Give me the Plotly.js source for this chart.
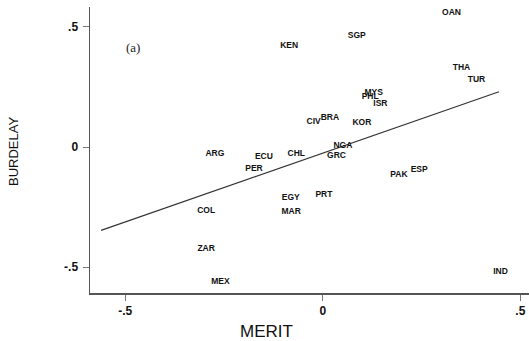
<!DOCTYPE html>
<html><head><meta charset="utf-8">
<script src="https://cdn.plot.ly/plotly-3.0.1.min.js"></script>
<style>html,body{margin:0;padding:0;background:#fff}#chart{width:529px;height:341px}</style>
</head><body><div id="chart"></div>
<script>
const countries = ["OAN","SGP","KEN","THA","TUR","MYS","PHL","ISR","CIV","BRA","KOR","NGA","GRC","CHL","ECU","ARG","PER","COL","ZAR","MEX","EGY","PRT","MAR","PAK","ESP","IND"];
const merit = [0.326,0.086,-0.085,0.351,0.389,0.129,0.120,0.146,-0.023,0.018,0.099,0.051,0.035,-0.067,-0.149,-0.273,-0.174,-0.295,-0.295,-0.259,-0.081,0.003,-0.080,0.193,0.244,0.450];
const burdelay = [0.557,0.4625,0.421,0.328,0.279,0.226,0.207,0.178,0.104,0.121,0.099,0.004,-0.0375,-0.029,-0.043,-0.029,-0.093,-0.265,-0.425,-0.5625,-0.211,-0.199,-0.272,-0.118,-0.096,-0.521];
const fitX = [-0.561, 0.446];
const fitY = [-0.347, 0.230];
const tickVals = [-0.5, 0, 0.5];
const tickText = ["-.5", "0", ".5"];

const traces = [
  {x: fitX, y: fitY, mode: "lines", line: {color: "#333", width: 1.2}, hoverinfo: "skip"},
  {x: merit, y: burdelay, text: countries, mode: "text", textposition: "middle center",
   textfont: {family: "Liberation Sans, Arial", size: 8.5, color: "#111", weight: "bold"}}
];
const axisCommon = {
  tickvals: tickVals, ticktext: tickText, ticks: "outside", ticklen: 6, tickwidth: 1,
  tickcolor: "#777", showline: true, linecolor: "#555", linewidth: 1.5,
  showgrid: false, zeroline: false, tickfont: {family: "Liberation Sans, Arial", size: 12, color: "#111", weight: "bold"}
};
const layout = {
  width: 529, height: 341, showlegend: false,
  margin: {l: 90, r: 0, t: 7, b: 48},
  paper_bgcolor: "#fff", plot_bgcolor: "#fff",
  xaxis: Object.assign({}, axisCommon, {range: [-0.589, 0.522]}),
  yaxis: Object.assign({}, axisCommon, {range: [-0.608, 0.583], ticklabelstandoff: 2}),
  annotations: [
    {text: "(a)", x: -0.48, y: 0.4125, xref: "x", yref: "y", showarrow: false,
     font: {family: "Liberation Serif, Times New Roman", size: 13, color: "#222"}},
    {text: "MERIT", x: 0.402, y: -0.136, xref: "paper", yref: "paper", showarrow: false, borderpad: 0,
     xanchor: "center", yanchor: "middle", font: {family: "Liberation Sans, Arial", size: 17, color: "#111"}},
    {text: "BURDELAY", x: -0.1754, y: 0.4965, xref: "paper", yref: "paper", showarrow: false,
     textangle: -90, xanchor: "center", yanchor: "middle", font: {family: "Liberation Sans, Arial", size: 13, color: "#111"}}
  ]
};
Plotly.newPlot("chart", traces, layout, {staticPlot: true, displayModeBar: false});
</script></body></html>
